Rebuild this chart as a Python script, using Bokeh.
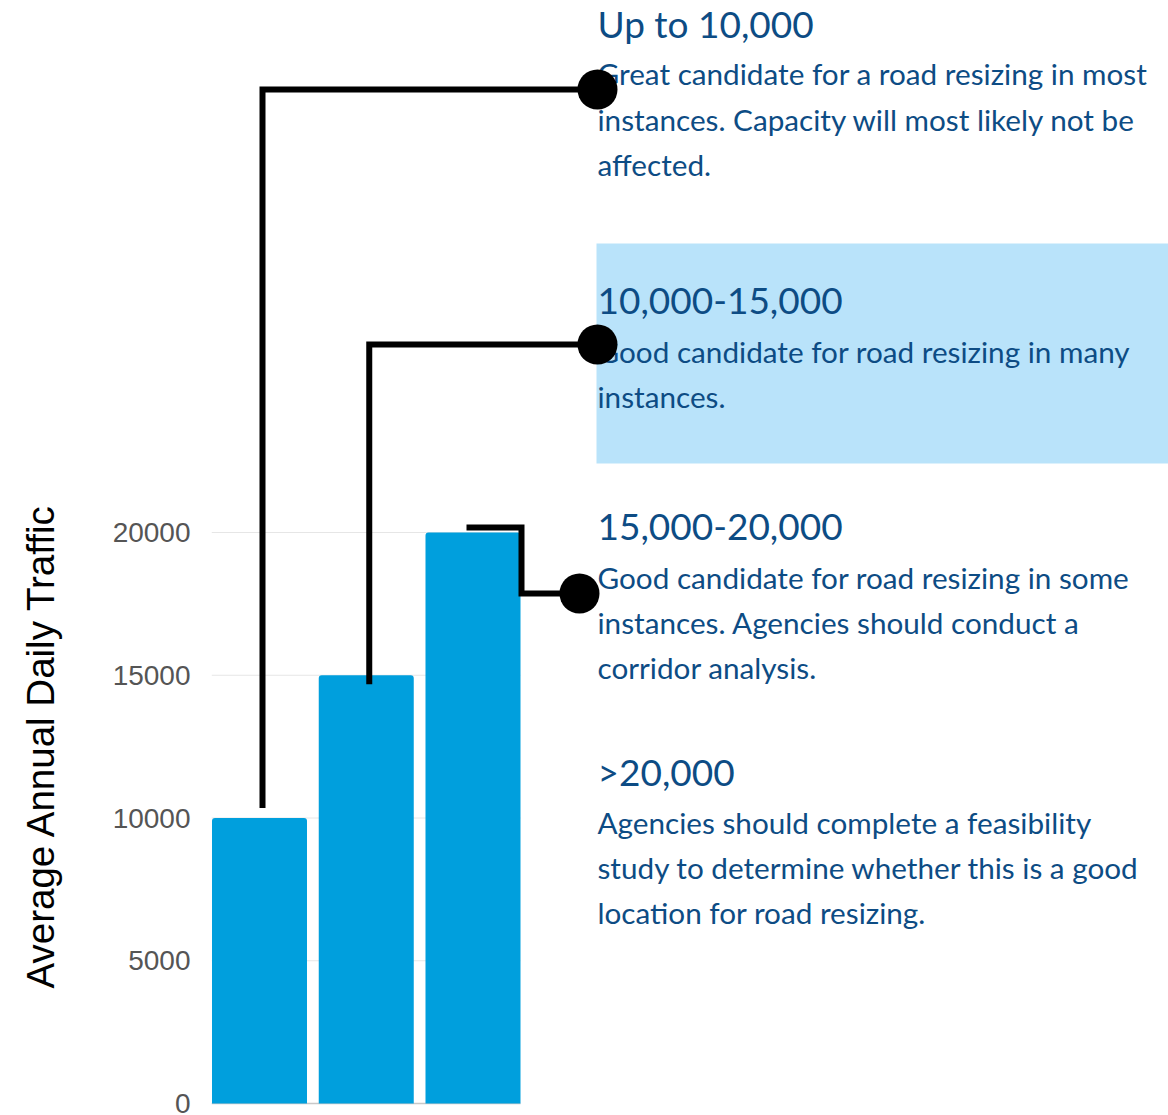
from bokeh.plotting import figure
from bokeh.models import Range1d, FixedTicker, Title
from bokeh.core.properties import value
from bokeh.embed import file_html
from bokeh.resources import INLINE

# ---------------- data ----------------
categories = ["Up to 10,000", "10,000-15,000", "15,000-20,000"]
aadt = [10000, 15000, 20000]
y_ticks = [0, 5000, 10000, 15000, 20000]
axis_title = "Average Annual Daily Traffic"
headers = ["Up to 10,000", "10,000-15,000", "15,000-20,000", ">20,000"]
body_lines = [
    ["Great candidate for a road resizing in most",
     "instances. Capacity will most likely not be",
     "affected."],
    ["Good candidate for road resizing in many",
     "instances."],
    ["Good candidate for road resizing in some",
     "instances. Agencies should conduct a",
     "corridor analysis."],
    ["Agencies should complete a feasibility",
     "study to determine whether this is a good",
     "location for road resizing."],
]

# ---------------- layout (pixels) ----------------
W, H = 1168, 1115
FRAME_LEFT = 211
ZERO_PX = 1103           # screen row of value 0
TOP_TICK_PX = 532        # screen row of value 20000
K = (ZERO_PX - TOP_TICK_PX) / y_ticks[-1]   # px per unit
UX = 106.75              # px per category step
FIRST_CENTER_PX = 259
BAR_W = 0.89
x_pos = [i + 1 for i in range(len(aadt))]

xs0 = x_pos[0] - (FIRST_CENTER_PX - FRAME_LEFT) / UX
xs1 = xs0 + (W - FRAME_LEFT) / UX
ys0 = -(H - ZERO_PX) / K
ys1 = ZERO_PX / K


def X(px):
    return xs0 + (px - FRAME_LEFT) / UX


def Y(py):
    return (ZERO_PX - py) / K


TEXT_X = 597
HEADER_BASE = [23, 300, 526, 771]
BODY_BASE = [[73, 119, 164], [351, 396], [577, 622, 667], [822, 867, 912]]
TEXT_COLOR = "#0D4C84"
BAR_COLOR = "#009FDD"

p = figure(width=W, height=H, x_range=Range1d(xs0, xs1), y_range=Range1d(ys0, ys1),
           output_backend="svg", toolbar_location=None, x_axis_location=None,
           y_axis_location="left", min_border_left=FRAME_LEFT, min_border_right=0,
           min_border_top=0, min_border_bottom=0, title=None)
p.outline_line_color = None
p.xgrid.grid_line_color = None
p.ygrid.grid_line_color = None
p.background_fill_color = "white"
p.border_fill_color = "white"

ax = p.yaxis[0]
ax.ticker = FixedTicker(ticks=y_ticks)
ax.axis_line_color = None
ax.major_tick_line_color = None
ax.minor_tick_line_color = None
ax.major_tick_out = 0
ax.major_tick_in = 0
ax.major_label_standoff = 21
ax.major_label_text_font = "Liberation Sans"
ax.major_label_text_font_size = "28px"
ax.major_label_text_color = "#555555"

# spacer between tick labels and the axis title
p.add_layout(Title(text=" ", text_font_size="1px", standoff=43), "left")
# axis title as a side title, placed where the reference has it
p.add_layout(Title(text=axis_title, align="left", vertical_align="top", offset=H - 988,
                   standoff=0, text_font="Liberation Sans", text_font_size="38.5px",
                   text_font_style="normal", text_color="black"), "left")

# highlight box behind second description
p.quad(left=[X(596)], right=[X(W)], top=[Y(243)], bottom=[Y(463)],
       fill_color="#B9E3FA", line_color=None)

# grid lines limited to the bar area
bar_right = x_pos[-1] + BAR_W / 2
p.segment(x0=[xs0] * (len(y_ticks) - 1), y0=y_ticks[1:], x1=[bar_right] * (len(y_ticks) - 1),
          y1=y_ticks[1:], line_color="#e6e6e6", line_width=1)
p.segment(x0=[xs0], y0=[y_ticks[0]], x1=[bar_right], y1=[y_ticks[0]],
          line_color="#c8c8c8", line_width=1.5)

# bars
p.vbar(x=x_pos, top=aadt, bottom=0, width=BAR_W, fill_color=BAR_COLOR,
       line_color=None, border_radius=(3, 3, 0, 0))

# texts
p.text(x=[X(TEXT_X)] * len(headers), y=[Y(b) for b in HEADER_BASE], text=headers,
       text_font=value("Lato"), text_font_size="37px", text_color=TEXT_COLOR,
       text_baseline="alphabetic", text_align="left")
bx, by, bt = [], [], []
for lines, bases in zip(body_lines, BODY_BASE):
    for t, b in zip(lines, bases):
        bx.append(X(TEXT_X))
        by.append(Y(b))
        bt.append(t)
p.text(x=bx, y=by, text=bt, text_font=value("Lato"), text_font_size="29.7px",
       text_color=TEXT_COLOR, text_baseline="alphabetic", text_align="left")

# connectors
off = 3 / UX
p.line(x=[x_pos[0] + off, x_pos[0] + off, X(597)],
       y=[aadt[0] + 10 / K, Y(89), Y(89)], line_color="black", line_width=6,
       line_join="miter")
p.line(x=[x_pos[1] + off, x_pos[1] + off, X(597)],
       y=[aadt[1] - 9 / K, Y(344), Y(344)], line_color="black", line_width=6,
       line_join="miter")
p.line(x=[x_pos[2] - 6.5 / UX, X(521), X(521), X(579)],
       y=[aadt[2] + 5 / K, aadt[2] + 5 / K, Y(593), Y(593)], line_color="black",
       line_width=6, line_join="miter")
p.scatter(x=[X(597), X(597), X(579)], y=[Y(89), Y(344), Y(593)], size=40,
          fill_color="black", line_color=None)

open("out.html", "w").write(file_html(p, INLINE))
